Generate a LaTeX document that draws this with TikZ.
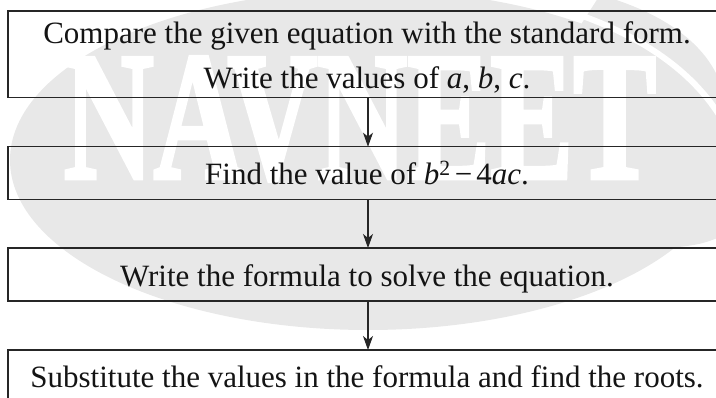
\documentclass[tikz,border=0pt]{standalone}
\usepackage{fontspec}
\setmainfont{Liberation Serif}
\newfontfamily\wmfont{Liberation Serif Bold}[FakeBold=2.5]
\usetikzlibrary{arrows.meta}
\tikzset{
  flowbox/.style={draw=black!85, line width=1.2pt, minimum width=720pt, inner sep=0pt, outer sep=0pt},
  steptext/.style={anchor=base, inner sep=0pt, font=\fontsize{31}{45}\selectfont, text=black!92},
  conn/.style={draw=black!85, line width=1.1pt, -{Stealth[length=14pt,width=10pt,inset=4pt]}},
  wmark/.style={white, font=\wmfont\fontsize{183}{183}\selectfont, xscale=0.68, anchor=base, inner sep=0pt},
  wmfill/.style={fill=black!9},
}
\begin{document}
\begin{tikzpicture}[x=1pt,y=-1pt]
\clip (0,0) rectangle (716,397);
% watermark
\fill[wmfill] (368,160) ellipse [x radius=358, y radius=170];
\fill[wmfill] (600,-5) .. controls (690,20) and (730,70) .. (725,120) -- (725,235)
   .. controls (700,245) .. (650,250) -- (500,150) -- cycle;
\draw[white, line width=6pt] (505,-5) .. controls (610,15) and (690,60) .. (725,125);
\node[wmark] (wm) at (360,178) {NAVNEET};
% boxes
\node[flowbox, minimum height=86.7pt] (b1) at (368,54.35) {};
\node[flowbox, minimum height=52.6pt] (b2) at (368,173) {};
\node[flowbox, minimum height=53pt] (b3) at (368,274.5) {};
\node[flowbox, minimum height=60pt] (b4) at (368,380) {};
% texts
\node[steptext] (t1a) at (367,43) {Compare the given equation with the standard form.};
\node[steptext] (t1b) at (367,88) {Write the values of \textit{a}, \textit{b}, \textit{c}.};
\node[steptext] (t2) at (367,184.3) {Find the value of \textit{b}\textsuperscript{2}\kern4pt−\kern4pt4\textit{ac}.};
\node[steptext] (t3) at (367,286) {Write the formula to solve the equation.};
\node[steptext] (t4) at (367,387) {Substitute the values in the formula and find the roots.};
% connectors
\draw[conn] (b1.south) -- (b2.north);
\draw[conn] (b2.south) -- (b3.north);
\draw[conn] (b3.south) -- (b4.north);
\end{tikzpicture}
\end{document}
